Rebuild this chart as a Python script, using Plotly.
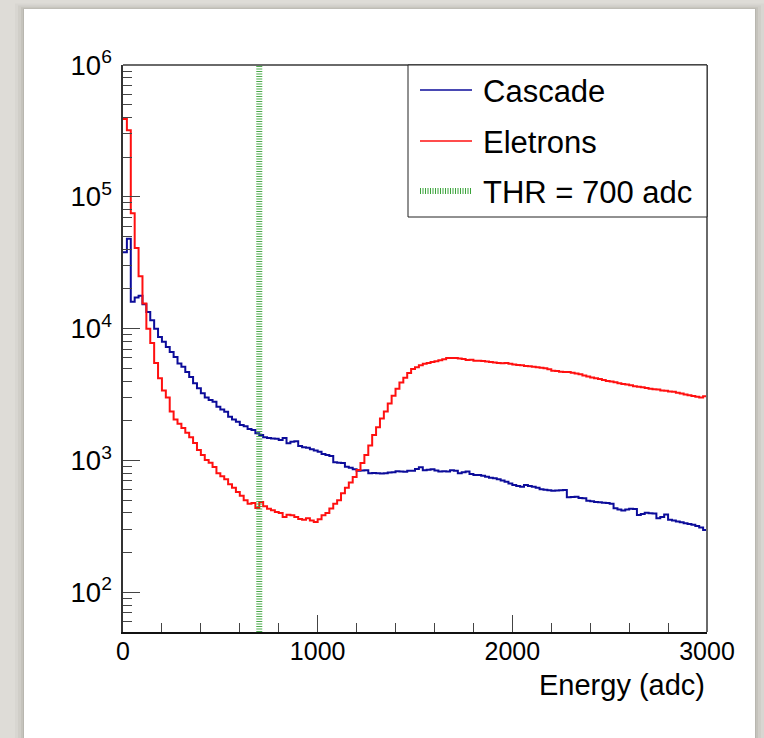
import numpy as np
import plotly.graph_objects as go

# Histogram binning (adc)
E_MIN, E_MAX, N_BINS = 0, 3000, 150
THRESHOLD = 700
Y_MIN, Y_MAX = 50, 1e6

# Counts per bin
cascade_counts = [
    38000, 48000, 16000, 17200, 17800, 15300, 13400, 11600, 10000, 8650,
    7950, 7250, 6650, 6100, 5450, 5130, 4700, 4300, 3850, 3530,
    3230, 3010, 2880, 2790, 2560, 2440, 2340, 2150, 2050, 1970,
    1860, 1820, 1730, 1700, 1610, 1560, 1500, 1480, 1470, 1460,
    1430, 1480, 1350, 1390, 1400, 1290, 1260, 1250, 1215, 1190,
    1166, 1120, 1100, 1080, 970, 962, 955, 898, 880, 857,
    837, 840, 845, 800, 805, 800, 795, 800, 810, 815,
    830, 825, 820, 837, 837, 860, 887, 845, 850, 857,
    840, 825, 830, 825, 845, 835, 800, 815, 825, 790,
    777, 777, 765, 753, 740, 732, 720, 705, 691, 670,
    652, 640, 631, 652, 640, 631, 620, 605, 600, 595,
    590, 592, 595, 598, 526, 528, 530, 520, 517, 496,
    490, 485, 482, 478, 476, 470, 435, 425, 417, 425,
    430, 428, 386, 392, 402, 398, 397, 365, 372, 390,
    355, 350, 344, 340, 334, 330, 325, 319, 310, 297,
]

electron_counts = [
    390000, 320000, 75000, 41000, 25000, 15500, 10000, 7800, 5500, 4200,
    3400, 3000, 2350, 2050, 1900, 1760, 1620, 1500, 1360, 1200,
    1100, 1010, 960, 893, 800, 760, 720, 660, 620, 577,
    540, 500, 470, 476, 436, 485, 450, 430, 420, 407,
    400, 373, 387, 385, 372, 360, 355, 365, 350, 342,
    358, 385, 400, 432, 470, 500, 565, 620, 680, 750,
    848, 955, 1100, 1300, 1560, 1790, 2080, 2350, 2700, 3100,
    3500, 3900, 4250, 4600, 4950, 5100, 5280, 5420, 5500, 5580,
    5650, 5760, 5850, 5980, 6000, 5990, 5950, 5880, 5780, 5800,
    5720, 5700, 5680, 5630, 5580, 5540, 5490, 5460, 5500, 5420,
    5350, 5300, 5280, 5200, 5180, 5150, 5100, 5050, 5000, 4920,
    4800, 4770, 4720, 4700, 4690, 4620, 4560, 4500, 4420, 4340,
    4260, 4210, 4150, 4080, 4000, 3980, 3920, 3860, 3800, 3770,
    3720, 3660, 3620, 3600, 3550, 3500, 3470, 3450, 3400, 3380,
    3340, 3320, 3270, 3220, 3170, 3120, 3080, 3040, 3000, 3070,
]

labels = ["Cascade", "Eletrons", "THR = 700 adc"]
x_tick_vals = [0, 1000, 2000, 3000]

BLUE = "#0c0c9a"
RED = "#ff1010"
GREEN = "#3aa33a"
FONT = "Liberation Sans, Arial, Helvetica, sans-serif"

edges = np.linspace(E_MIN, E_MAX, N_BINS + 1)


def step_xy(counts):
    # outline of a histogram: left edges plus the final right edge
    return list(edges), list(counts) + [counts[-1]]


fig = go.Figure()

cx, cy = step_xy(cascade_counts)
fig.add_trace(go.Scatter(x=cx, y=cy, mode="lines", line_shape="hv",
                         line=dict(color=BLUE, width=2), name=labels[0]))
ex, ey = step_xy(electron_counts)
fig.add_trace(go.Scatter(x=ex, y=ey, mode="lines", line_shape="hv",
                         line=dict(color=RED, width=2), name=labels[1]))
fig.add_trace(go.Scatter(x=[THRESHOLD, THRESHOLD], y=[Y_MIN, Y_MAX], mode="lines",
                         line=dict(color=GREEN, width=6, dash="1px,1.5px"),
                         opacity=0.9, name=labels[2]))

# plot area geometry (px)
W, H = 764, 738
L, R, T, B = 123, 57, 65, 106
PW, PH = W - L - R, H - T - B


def px(x):
    return (x - L) / PW


def py(y):
    return (H - B - y) / PH


shapes = []
# card shadow + white card
for grow, op in [(9, 0.035), (6, 0.05), (3, 0.07), (1, 0.09)]:
    shapes.append(dict(type="rect", xref="paper", yref="paper", layer="below",
                       x0=px(24 - grow), x1=px(755 + grow),
                       y0=py(770), y1=py(9 - grow * 0.6),
                       fillcolor="rgba(60,55,45,%.3f)" % op, line=dict(width=0)))
shapes.append(dict(type="rect", xref="paper", yref="paper", layer="below",
                   x0=px(24), x1=px(755), y0=py(770), y1=py(9),
                   fillcolor="white", line=dict(width=0)))
# frame top / right
shapes.append(dict(type="line", xref="paper", yref="paper", x0=0, x1=1, y0=1, y1=1,
                   line=dict(color="#6a6a6a", width=2)))
shapes.append(dict(type="line", xref="paper", yref="paper", x0=1, x1=1, y0=0, y1=1,
                   line=dict(color="#6a6a6a", width=2)))

# legend box
shapes.append(dict(type="rect", xref="paper", yref="paper", layer="above",
                   x0=px(408), x1=1, y0=py(217), y1=1,
                   fillcolor="white", line=dict(color="#222222", width=1)))
legend_rows = [90, 141, 191]
legend_styles = [dict(color=BLUE, width=1.5), dict(color=RED, width=1.5),
                 dict(color=GREEN, width=6, dash="1px,1.5px")]
annotations = []
for yrow, style, text in zip(legend_rows, legend_styles, labels):
    shapes.append(dict(type="line", xref="paper", yref="paper", layer="above",
                       x0=px(420), x1=px(472), y0=py(yrow), y1=py(yrow), line=style))
    annotations.append(dict(xref="paper", yref="paper", x=px(481), y=py(yrow + 1),
                            xanchor="left", yanchor="middle", showarrow=False,
                            text=text, font=dict(size=31, color="black", family=FONT)))

annotations.append(dict(xref="paper", yref="paper", x=1, y=py(685),
                        xanchor="right", yanchor="middle", showarrow=False,
                        text="Energy (adc)", font=dict(size=29, color="black", family=FONT)))

fig.update_layout(
    width=W, height=H, autosize=False,
    margin=dict(l=L, r=R, t=T, b=B, pad=0),
    paper_bgcolor="#dedcd7", plot_bgcolor="white",
    showlegend=False,
    shapes=shapes, annotations=annotations,
    font=dict(family=FONT, color="black"),
)

fig.update_xaxes(
    range=[E_MIN, E_MAX], showgrid=False, zeroline=False,
    showline=True, linecolor="#111111", linewidth=1.5,
    ticks="inside", ticklen=17, tickwidth=1, tickcolor="#444444",
    tickvals=x_tick_vals, ticktext=[str(v) for v in x_tick_vals],
    tickfont=dict(size=25, family=FONT, color="black"),
    ticklabelstandoff=-4,
    minor=dict(ticks="inside", ticklen=9, dtick=200, tick0=0,
               tickcolor="#444444", tickwidth=1, showgrid=False),
)
fig.update_yaxes(
    type="log", range=[np.log10(Y_MIN), np.log10(Y_MAX)],
    showgrid=False, zeroline=False,
    showline=True, linecolor="#333333", linewidth=1.5,
    ticks="inside", ticklen=17, tickwidth=1, tickcolor="#444444",
    dtick=1, exponentformat="power", showexponent="all",
    tickfont=dict(size=22, family=FONT, color="black"),
    ticklabelstandoff=5,
    minor=dict(ticks="inside", ticklen=9, dtick="D1",
               tickcolor="#444444", tickwidth=1, showgrid=False),
)

fig.write_html("out.html")
